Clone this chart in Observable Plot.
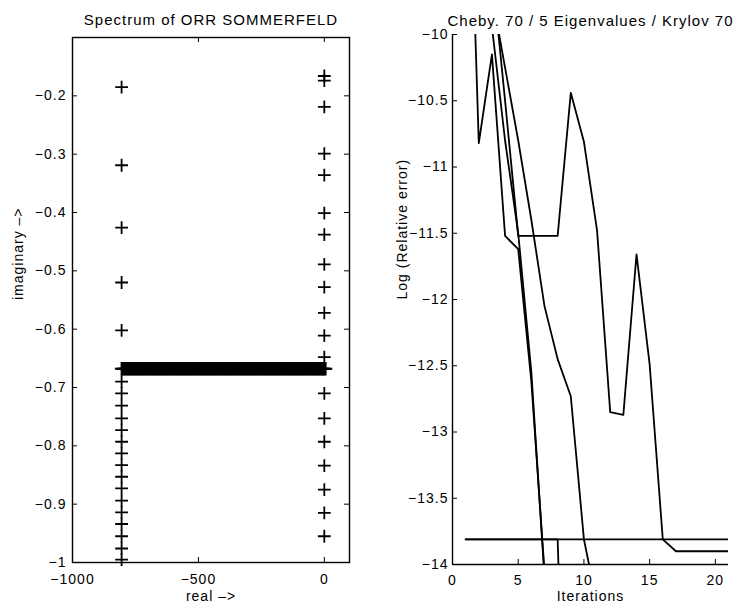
<!DOCTYPE html>
<html><head><meta charset="utf-8">
<script src="https://cdn.jsdelivr.net/npm/d3@7"></script>
<script src="https://cdn.jsdelivr.net/npm/@observablehq/plot@0.6"></script>
<style>
body{margin:0;background:#fff;}
#wrap{display:flex;width:740px;height:612px;background:#fff;}
</style></head><body><div id="wrap"></div>
<script>
// ---------- Left panel: spectrum of Orr-Sommerfeld ----------
const leftTitle = "Spectrum of ORR SOMMERFELD";
const leftXLabel = "real –>";
const leftYLabel = "imaginary –>";
const leftColReal = -805;
const rightColReal = 0;
const leftColImag = [-0.185,-0.319,-0.426,-0.520,-0.602,
  -0.690,-0.710,-0.731,-0.753,-0.773,-0.793,-0.813,-0.833,-0.853,-0.873,-0.894,-0.914,-0.934,-0.955,-0.976,-0.995];
const rightColImag = [-0.166,-0.174,-0.219,-0.299,-0.336,-0.401,-0.438,-0.489,-0.528,-0.572,-0.611,-0.648,
  -0.710,-0.753,-0.793,-0.834,-0.875,-0.915,-0.955];
const bandImag = -0.668;
const bandReal = [-805,-800,-795,-790,-785,-780,-775,-770,-765,-760,-755,-750,-745,-740,-735,-730,-725,-720,-715,-710,
  -705,-700,-695,-690,-685,-680,-675,-670,-665,-660,-655,-650,-645,-640,-635,-630,-625,-620,-615,-610,
  -605,-600,-595,-590,-585,-580,-575,-570,-565,-560,-555,-550,-545,-540,-535,-530,-525,-520,-515,-510,
  -505,-500,-495,-490,-485,-480,-475,-470,-465,-460,-455,-450,-445,-440,-435,-430,-425,-420,-415,-410,
  -405,-400,-395,-390,-385,-380,-375,-370,-365,-360,-355,-350,-345,-340,-335,-330,-325,-320,-315,-310,
  -305,-300,-295,-290,-285,-280,-275,-270,-265,-260,-255,-250,-245,-240,-235,-230,-225,-220,-215,-210,
  -205,-200,-195,-190,-185,-180,-175,-170,-165,-160,-155,-150,-145,-140,-135,-130,-125,-120,-115,-110,
  -105,-100,-95,-90,-85,-80,-75,-70,-65,-60,-55,-50,-45,-40,-35,-30,-25,-20,-15,-10,-5,0,5];
const specXTicks = [-1000,-500,0];
const specYTicks = [-1,-0.9,-0.8,-0.7,-0.6,-0.5,-0.4,-0.3,-0.2];

// ---------- Right panel: convergence ----------
const rightTitle = "Cheby. 70 / 5 Eigenvalues / Krylov 70";
const rightXLabel = "Iterations";
const rightYLabel = "Log (Relative error)";
const itE1 = [1,2,3,4,5,6,7];
const errE1 = [-7.7,-10.82,-10.15,-11.52,-11.62,-12.62,-14.05];
const itE2 = [2,3,4,5,6,7];
const errE2 = [-9.1,-9.94,-10.8,-11.5,-12.55,-14.1];
const itE3 = [3,4,5,6,7,8,9,10,11,12,13,14,15,16,17,18,19,20,21];
const errE3 = [-9.5,-10.5,-11.52,-11.52,-11.52,-11.52,-10.44,-10.81,-11.48,-12.85,-12.87,-11.66,-12.49,-13.81,-13.9,-13.9,-13.9,-13.9,-13.9];
const itE4 = [3,4,5,6,7,8,9,10,11];
const errE4 = [-9.7,-10.25,-10.8,-11.4,-12.05,-12.45,-12.73,-13.81,-14.3];
const itE5 = [1,2,3,4,5,6,7,8,9];
const errE5 = [-13.81,-13.81,-13.81,-13.81,-13.81,-13.81,-13.81,-13.81,-17];
const itFloor = [1,2,3,4,5,6,7,8,9,10,11,12,13,14,15,16,17,18,19,20,21];
const errFloor = [-13.81,-13.81,-13.81,-13.81,-13.81,-13.81,-13.81,-13.81,-13.81,-13.81,-13.81,-13.81,-13.81,-13.81,-13.81,-13.81,-13.81,-13.81,-13.81,-13.81,-13.81];
const iterXTicks = [0,5,10,15,20];
const errYTicks = [-14,-13.5,-13,-12.5,-12,-11.5,-11,-10.5,-10];

// build tables
const isolated = [
  ...leftColImag.map(im => ({re: leftColReal, im})),
  ...rightColImag.map(im => ({re: rightColReal, im}))
];
const band = bandReal.map(re => ({re, im: bandImag}));
const seriesDefs = [["e1", itE1, errE1],["e2", itE2, errE2],["e3", itE3, errE3],["e4", itE4, errE4],["e5", itE5, errE5],["floor", itFloor, errFloor]];
const conv = seriesDefs.flatMap(([name, its, errs]) => its.map((it, i) => ({name, it, err: errs[i]})));

const fmt = d3.format("");
const font = "'Liberation Sans', Arial, Helvetica, sans-serif";
const baseStyle = {fontFamily: font, fontSize: "14px", color: "black", background: "white", letterSpacing: "1px", overflow: "visible"};

// Left plot geometry
const LW = 370, LH = 612, LML = 72, LMR = 21, LMT = 37, LMB = 50;
const LFW = LW - LML - LMR, LFH = LH - LMT - LMB;
const left = Plot.plot({
  width: LW, height: LH, marginLeft: LML, marginRight: LMR, marginTop: LMT, marginBottom: LMB,
  style: baseStyle,
  x: {domain: [-1000, 100]},
  y: {domain: [-1, -0.1]},
  marks: [
    Plot.frame({stroke: "black", strokeWidth: 1.4}),
    Plot.axisX(specXTicks, {tickSize: 0, tickPadding: 12, tickFormat: fmt, label: null}),
    Plot.axisY(specYTicks, {tickSize: 0, tickPadding: 6, tickFormat: fmt, label: null}),
    Plot.tickX(specXTicks, {x: d => d, insetTop: LFH - 5, stroke: "black"}),
    Plot.tickX(specXTicks, {x: d => d, insetBottom: LFH - 5, stroke: "black"}),
    Plot.tickY(specYTicks, {y: d => d, insetRight: LFW - 5, stroke: "black"}),
    Plot.tickY(specYTicks, {y: d => d, insetLeft: LFW - 5, stroke: "black"}),
    Plot.dot(isolated, {x: "re", y: "im", symbol: "plus", r: 4.2, stroke: "black", strokeWidth: 1.8}),
    Plot.dot(band, {x: "re", y: "im", symbol: "plus", r: 4.4, stroke: "black", strokeWidth: 2}),
    Plot.text([leftTitle], {text: d => d, frameAnchor: "top", dy: -23, fontSize: 15, letterSpacing: "0.9px"}),
    Plot.text([leftXLabel], {text: d => d, frameAnchor: "bottom", dy: 38}),
    Plot.text([leftYLabel], {text: d => d, frameAnchor: "left", dx: -54, rotate: -90})
  ]
});

// Right plot geometry
const RW = 370, RH = 612, RML = 82, RMR = 12, RMT = 34, RMB = 48;
const RFW = RW - RML - RMR, RFH = RH - RMT - RMB;
const right = Plot.plot({
  width: RW, height: RH, marginLeft: RML, marginRight: RMR, marginTop: RMT, marginBottom: RMB,
  style: baseStyle,
  x: {domain: [0, 21]},
  y: {domain: [-14, -10]},
  marks: [
    Plot.ruleX([0], {stroke: "black", strokeWidth: 1.4}),
    Plot.ruleY([-14], {stroke: "black", strokeWidth: 1.4}),
    Plot.axisX(iterXTicks, {tickSize: 0, tickPadding: 11, tickFormat: fmt, label: null}),
    Plot.axisY(errYTicks, {tickSize: 0, tickPadding: 4, tickFormat: fmt, label: null}),
    Plot.tickX(iterXTicks, {x: d => d, insetTop: RFH - 5, stroke: "black"}),
    Plot.tickY(errYTicks, {y: d => d, insetRight: RFW - 5, stroke: "black"}),
    Plot.line(conv, {x: "it", y: "err", z: "name", stroke: "black", strokeWidth: 1.8, clip: true}),
    Plot.text([rightTitle], {text: d => d, frameAnchor: "top", dy: -19, fontSize: 15, letterSpacing: "0.9px"}),
    Plot.text([rightXLabel], {text: d => d, frameAnchor: "bottom", dy: 36}),
    Plot.text([rightYLabel], {text: d => d, frameAnchor: "left", dx: -50, rotate: -90})
  ]
});

const wrap = document.getElementById("wrap");
wrap.appendChild(left);
wrap.appendChild(right);
</script></body></html>
